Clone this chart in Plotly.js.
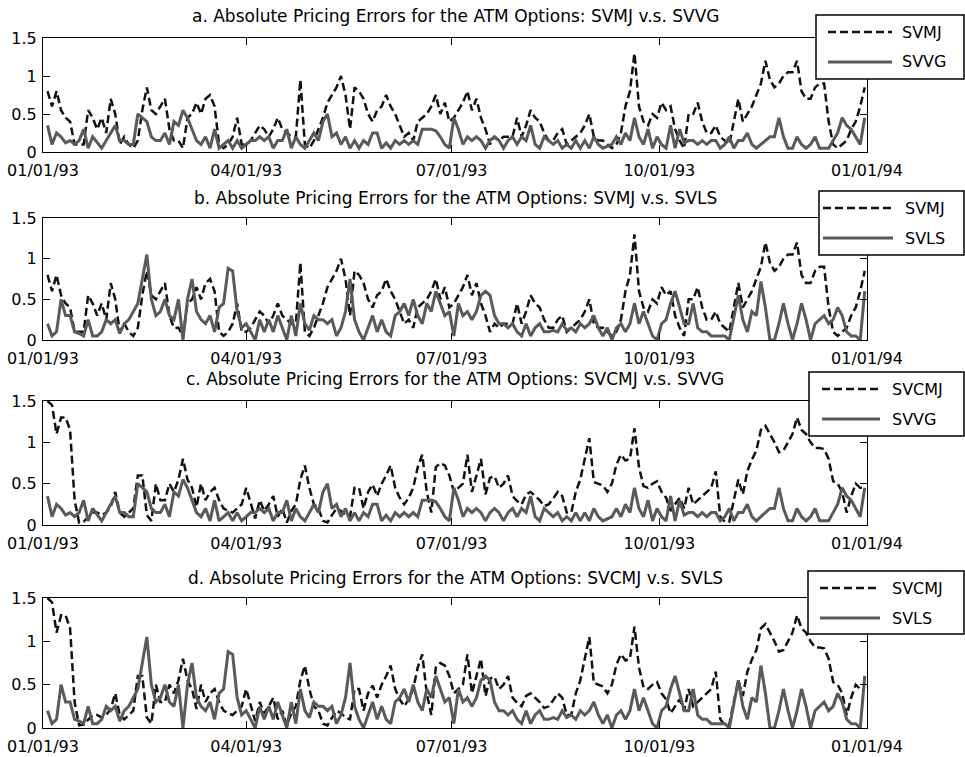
<!DOCTYPE html>
<html>
<head>
<meta charset="utf-8">
<script src="https://cdn.plot.ly/plotly-3.0.1.min.js"></script>
<style>html,body{margin:0;padding:0;background:#fff;}#chart{width:965px;height:757px;}</style>
</head>
<body>
<div id="chart"></div>
<script>
// Sampling: one value every 2 calendar days, starting 1993-01-03
const startDate = '1993-01-03';
const stepDays = 2;

const titles = [
  'a. Absolute Pricing Errors for the ATM Options: SVMJ v.s. SVVG',
  'b. Absolute Pricing Errors for the ATM Options: SVMJ v.s. SVLS',
  'c. Absolute Pricing Errors for the ATM Options: SVCMJ v.s. SVVG',
  'd. Absolute Pricing Errors for the ATM Options: SVCMJ v.s. SVLS'
];
const tickDates = ['1993-01-01','1993-04-01','1993-07-01','1993-10-01','1994-01-01'];
const yTickVals = [0, 0.5, 1, 1.5];
const yTickText = ['0', '0.5', '1', '1.5'];

const SVMJ = [
  0.8,0.6,0.8,0.55,0.45,0.4,0.1,0.1,0.1,0.55,
  0.45,0.3,0.45,0.25,0.7,0.5,0.1,0.2,0.1,0.05,
  0.15,0.55,0.85,0.55,0.5,0.6,0.7,0.3,0.15,0.15,
  0.05,0.45,0.5,0.65,0.5,0.7,0.75,0.6,0.1,0.05,
  0.1,0.2,0.45,0.1,0.1,0.15,0.25,0.35,0.3,0.2,
  0.3,0.45,0.3,0.25,0.2,0.2,0.95,0.1,0.05,0.15,
  0.3,0.45,0.65,0.75,0.85,1.0,0.75,0.3,0.85,0.8,
  0.7,0.5,0.4,0.55,0.6,0.75,0.6,0.5,0.35,0.2,
  0.25,0.15,0.4,0.45,0.5,0.6,0.75,0.5,0.65,0.4,
  0.45,0.55,0.65,0.8,0.55,0.7,0.45,0.3,0.1,0.2,
  0.15,0.2,0.2,0.2,0.45,0.2,0.35,0.55,0.45,0.4,
  0.25,0.15,0.15,0.25,0.3,0.1,0.15,0.2,0.25,0.35,
  0.5,0.2,0.15,0.15,0.1,0.05,0.1,0.25,0.6,0.8,
  1.3,0.6,0.4,0.35,0.5,0.45,0.65,0.55,0.6,0.3,
  0.15,0.05,0.5,0.5,0.65,0.4,0.25,0.25,0.35,0.2,
  0.15,0.1,0.4,0.7,0.4,0.5,0.6,0.75,0.9,1.2,
  0.95,0.85,0.9,1.0,1.05,1.05,1.2,0.8,0.7,0.7,
  0.85,0.9,0.9,0.4,0.1,0.05,0.1,0.15,0.3,0.4,
  0.6,0.85
];
const SVVG = [
  0.35,0.1,0.25,0.2,0.12,0.15,0.1,0.15,0.3,0.05,
  0.2,0.12,0.05,0.15,0.25,0.35,0.15,0.15,0.1,0.1,
  0.5,0.45,0.4,0.2,0.15,0.15,0.25,0.1,0.4,0.35,
  0.55,0.45,0.3,0.15,0.1,0.2,0.05,0.3,0.05,0.1,
  0.15,0.05,0.15,0.05,0.1,0.15,0.15,0.2,0.15,0.2,
  0.05,0.15,0.15,0.3,0.05,0.2,0.1,0.05,0.15,0.25,
  0.15,0.4,0.5,0.2,0.25,0.1,0.2,0.05,0.15,0.05,
  0.15,0.1,0.25,0.25,0.05,0.12,0.05,0.15,0.1,0.15,
  0.1,0.15,0.1,0.3,0.3,0.3,0.28,0.2,0.1,0.05,
  0.45,0.3,0.1,0.2,0.15,0.2,0.15,0.05,0.15,0.2,
  0.15,0.05,0.15,0.2,0.1,0.2,0.15,0.35,0.1,0.05,
  0.2,0.15,0.1,0.15,0.05,0.1,0.05,0.15,0.05,0.15,
  0.05,0.2,0.1,0.05,0.08,0.1,0.2,0.1,0.25,0.15,
  0.45,0.2,0.1,0.3,0.05,0.2,0.1,0.05,0.35,0.05,
  0.3,0.12,0.15,0.15,0.1,0.15,0.1,0.15,0.15,0.05,
  0.1,0.2,0.05,0.15,0.15,0.25,0.1,0.05,0.1,0.15,
  0.2,0.2,0.45,0.2,0.05,0.05,0.2,0.1,0.05,0.1,
  0.2,0.05,0.05,0.05,0.15,0.25,0.45,0.35,0.3,0.2,
  0.1,0.45
];
const SVLS = [
  0.2,0.05,0.1,0.5,0.3,0.3,0.1,0.08,0.05,0.25,
  0.05,0.05,0.1,0.25,0.2,0.25,0.08,0.2,0.25,0.35,
  0.45,0.75,1.05,0.5,0.3,0.35,0.5,0.3,0.25,0.5,
  0.0,0.5,0.75,0.35,0.25,0.2,0.3,0.1,0.4,0.45,
  0.88,0.85,0.35,0.15,0.2,0.1,0.0,0.25,0.1,0.25,
  0.1,0.3,0.15,0.0,0.3,0.05,0.45,0.2,0.12,0.3,
  0.25,0.25,0.2,0.25,0.05,0.15,0.35,0.75,0.25,0.1,
  0.0,0.15,0.3,0.1,0.25,0.1,0.05,0.3,0.35,0.45,
  0.3,0.5,0.3,0.2,0.45,0.35,0.6,0.45,0.3,0.35,
  0.05,0.45,0.3,0.35,0.25,0.35,0.55,0.6,0.55,0.3,
  0.2,0.2,0.15,0.2,0.1,0.05,0.2,0.05,0.15,0.2,
  0.1,0.1,0.12,0.1,0.2,0.12,0.15,0.1,0.2,0.15,
  0.2,0.3,0.15,0.05,0.15,0.0,0.15,0.2,0.1,0.2,
  0.45,0.2,0.35,0.2,0.05,0.0,0.2,0.25,0.45,0.6,
  0.4,0.2,0.2,0.45,0.15,0.1,0.1,0.05,0.05,0.05,
  0.05,0.0,0.3,0.55,0.25,0.1,0.35,0.3,0.72,0.4,
  0.0,0.0,0.2,0.45,0.2,0.0,0.2,0.45,0.25,0.0,
  0.2,0.25,0.3,0.2,0.25,0.4,0.3,0.1,0.05,0.05,
  0.0,0.6
];
const SVCMJ = [
  1.5,1.45,1.1,1.3,1.3,1.15,0.3,0.03,0.04,0.1,
  0.15,0.15,0.12,0.15,0.22,0.4,0.15,0.1,0.15,0.2,
  0.6,0.6,0.12,0.05,0.5,0.3,0.3,0.5,0.4,0.55,
  0.8,0.55,0.45,0.22,0.5,0.3,0.4,0.45,0.3,0.2,
  0.17,0.15,0.2,0.25,0.45,0.25,0.08,0.3,0.17,0.25,
  0.35,0.1,0.2,0.03,0.17,0.25,0.55,0.72,0.45,0.25,
  0.2,0.05,0.03,0.12,0.2,0.17,0.12,0.1,0.45,0.45,
  0.2,0.4,0.49,0.35,0.5,0.6,0.72,0.45,0.33,0.25,
  0.33,0.45,0.7,0.85,0.4,0.15,0.7,0.75,0.72,0.6,
  0.4,0.45,0.5,0.85,0.4,0.6,0.8,0.37,0.57,0.59,
  0.45,0.5,0.6,0.35,0.29,0.25,0.37,0.4,0.35,0.3,
  0.23,0.25,0.32,0.4,0.35,0.15,0.15,0.4,0.55,0.8,
  1.05,0.52,0.5,0.48,0.4,0.5,0.73,0.85,0.78,0.8,
  1.17,0.7,0.47,0.45,0.5,0.53,0.4,0.33,0.17,0.25,
  0.33,0.2,0.45,0.25,0.3,0.35,0.4,0.45,0.65,0.1,
  0.04,0.04,0.3,0.55,0.37,0.65,0.79,0.9,1.15,1.2,
  1.1,1.0,0.88,0.9,1.0,1.1,1.3,1.15,1.1,1.0,
  0.93,0.93,0.92,0.8,0.53,0.5,0.4,0.15,0.35,0.5,
  0.45,0.45
];

const panels = [
  {dashed: 'SVMJ', dashedData: SVMJ, solid: 'SVVG', solidData: SVVG},
  {dashed: 'SVMJ', dashedData: SVMJ, solid: 'SVLS', solidData: SVLS},
  {dashed: 'SVCMJ', dashedData: SVCMJ, solid: 'SVVG', solidData: SVVG},
  {dashed: 'SVCMJ', dashedData: SVCMJ, solid: 'SVLS', solidData: SVLS}
];

function datesFor(n) {
  const out = [];
  const t0 = Date.parse(startDate + 'T00:00:00Z');
  for (let i = 0; i < n; i++) {
    const d = new Date(t0 + i * stepDays * 86400000);
    out.push(d.toISOString().slice(0, 10));
  }
  return out;
}

const W = 965, H = 757;
const ML = 43, MR = 98;
const plotW = W - ML - MR;
// plot boxes in px (top, bottom)
const boxes = [[38, 152], [218, 340], [401, 525], [598, 728]];
const titleY = [16, 198, 379, 578];
// legend boxes in px: [left, top, right, bottom, lineStart, lineEnd, textStart]
const legendBoxes = [
  [816, 15, 964, 79, 828, 892, 900],
  [819, 191, 964, 255, 823, 893, 903],
  [809, 372, 964, 436, 822, 880, 890],
  [808, 571, 964, 634, 820, 880, 890]
];
const px = v => (v - ML) / plotW;
const py = v => 1 - v / H;

const dashStyle = {color: '#111', width: 2.5, dash: '8px,4px'};
const solidStyle = {color: '#5a5a5a', width: 3};

const data = [];
const layout = {
  width: W, height: H,
  margin: {l: ML, r: MR, t: 0, b: 0},
  paper_bgcolor: '#fff', plot_bgcolor: '#fff',
  font: {family: 'DejaVu Sans, Arial, sans-serif', size: 16, color: '#000'},
  annotations: [], shapes: [],
  showlegend: false
};

panels.forEach((p, i) => {
  const k = i === 0 ? '' : String(i + 1);
  const xa = 'x' + k, ya = 'y' + k;
  data.push({
    x: datesFor(p.dashedData.length), y: p.dashedData, name: p.dashed,
    type: 'scatter', mode: 'lines', xaxis: xa, yaxis: ya,
    line: dashStyle
  });
  data.push({
    x: datesFor(p.solidData.length), y: p.solidData, name: p.solid,
    type: 'scatter', mode: 'lines', xaxis: xa, yaxis: ya,
    line: solidStyle
  });
  const [top, bot] = boxes[i];
  layout['xaxis' + k] = {
    domain: [0, 1], anchor: ya, type: 'date',
    range: ['1993-01-01', '1994-01-01'],
    tickvals: tickDates, tickformat: '%m/%d/%y',
    ticks: 'inside', ticklen: 7, tickwidth: 1, tickcolor: '#000',
    showline: true, linecolor: '#000', linewidth: 1, mirror: 'ticks',
    showgrid: false, zeroline: false,
    tickfont: {size: 16, color: '#000'}, ticklabelstandoff: 4
  };
  layout['yaxis' + k] = {
    domain: [1 - bot / H, 1 - top / H], anchor: xa,
    range: [0, 1.5], tickvals: yTickVals, ticktext: yTickText,
    ticks: 'inside', ticklen: 7, tickwidth: 1, tickcolor: '#000',
    showline: true, linecolor: '#000', linewidth: 1, mirror: 'ticks',
    showgrid: false, zeroline: false,
    tickfont: {size: 16, color: '#000'}, ticklabelstandoff: 2
  };
  layout.annotations.push({
    text: titles[i], xref: 'paper', yref: 'paper',
    x: 0.5, y: py(titleY[i]), xanchor: 'center', yanchor: 'middle',
    showarrow: false, font: {size: 17, color: '#000'}
  });
  // legend box
  const [l, t, r, b, ls, le, ts] = legendBoxes[i];
  layout.shapes.push({
    type: 'rect', xref: 'paper', yref: 'paper',
    x0: px(l), x1: px(r), y0: py(t), y1: py(b),
    fillcolor: '#fff', line: {color: '#000', width: 1.5}, layer: 'above'
  });
  const rows = [[t + 17, p.dashed, dashStyle], [t + 47, p.solid, solidStyle]];
  rows.forEach(([ry, name, st]) => {
    layout.shapes.push({
      type: 'line', xref: 'paper', yref: 'paper',
      x0: px(ls), x1: px(le), y0: py(ry), y1: py(ry),
      line: {color: st.color, width: st.width, dash: st.dash || 'solid'}, layer: 'above'
    });
    layout.annotations.push({
      text: name, xref: 'paper', yref: 'paper',
      x: px(ts), y: py(ry), xanchor: 'left', yanchor: 'middle',
      showarrow: false, font: {size: 16, color: '#000'}
    });
  });
});

Plotly.newPlot('chart', data, layout, {displayModeBar: false, staticPlot: true});
</script>
</body>
</html>
